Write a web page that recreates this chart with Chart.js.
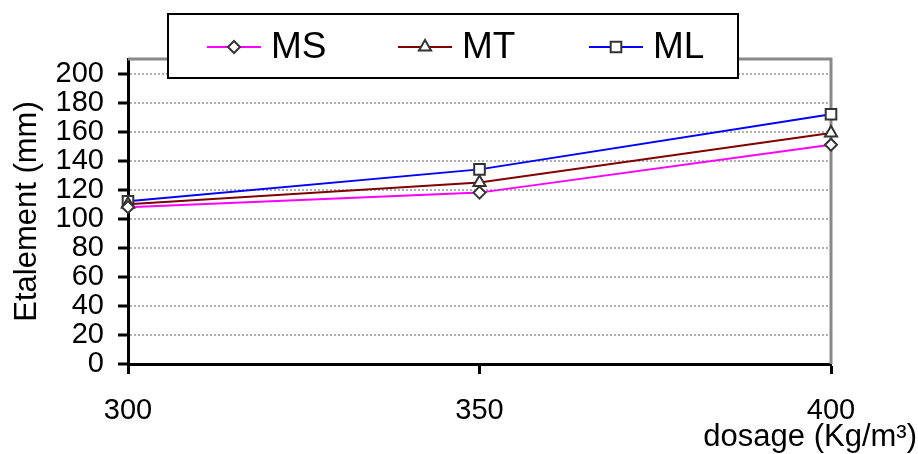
<!DOCTYPE html>
<html>
<head>
<meta charset="utf-8">
<script src="https://cdn.jsdelivr.net/npm/chart.js@4.4.0/dist/chart.umd.min.js"></script>
<style>
	html, body { margin: 0; padding: 0; background: #fff; }
	#wrap { width: 918px; height: 454px; }
</style>
</head>
<body>
<div id="wrap"><canvas id="chart" width="918" height="454"></canvas></div>
<script>
	// dosage (Kg/m3) on x, spread (mm) on y
	var dosages = [300, 350, 400];
	var seriesNames = ['MS', 'MT', 'ML'];
	var msValues = [108, 118, 151];
	var mtValues = [110, 125, 159];
	var mlValues = [112, 134, 172];
	var yTickValues = [0, 20, 40, 60, 80, 100, 120, 140, 160, 180, 200];

	var uiFont = '"Liberation Sans", Arial, sans-serif';

	function toPoints(values) {
		return values.map(function(v, i) { return { x: dosages[i], y: v }; });
	}

	function series(label, values, color, style, radius) {
		return {
			label: label,
			data: toPoints(values),
			borderColor: color,
			borderWidth: 2,
			pointStyle: style,
			pointRadius: radius,
			pointBorderColor: '#333333',
			pointBackgroundColor: '#ffffff',
			pointBorderWidth: 2,
			tension: 0,
			clip: false
		};
	}

	function drawMarker(ctx, style, r, x, y) {
		ctx.beginPath();
		if (style === 'rectRot') {
			ctx.moveTo(x, y - r);
			ctx.lineTo(x + r, y);
			ctx.lineTo(x, y + r);
			ctx.lineTo(x - r, y);
		} else if (style === 'triangle') {
			var a = 0;
			for (var k = 0; k < 3; k++) {
				var px = x + Math.sin(a) * r, py = y - Math.cos(a) * r;
				if (k === 0) ctx.moveTo(px, py); else ctx.lineTo(px, py);
				a += Math.PI * 2 / 3;
			}
		} else {
			var s = r * Math.SQRT1_2;
			ctx.rect(x - s, y - s, s * 2, s * 2);
		}
		ctx.closePath();
		ctx.fillStyle = '#ffffff';
		ctx.fill();
		ctx.lineWidth = 2;
		ctx.strokeStyle = '#333333';
		ctx.stroke();
	}

	// gray top/right frame, boxed legend and the x title
	var extras = {
		id: 'extras',
		beforeDatasetsDraw: function(chart) {
			var ctx = chart.ctx, a = chart.chartArea;
			ctx.save();
			ctx.strokeStyle = '#888888';
			ctx.lineWidth = 3;
			ctx.beginPath();
			ctx.moveTo(a.left, a.top);
			ctx.lineTo(a.right, a.top);
			ctx.lineTo(a.right, a.bottom);
			ctx.stroke();
			ctx.restore();
		},
		afterDraw: function(chart) {
			var ctx = chart.ctx;
			ctx.save();

			ctx.fillStyle = '#ffffff';
			ctx.fillRect(168, 14, 570, 64);
			ctx.strokeStyle = '#000000';
			ctx.lineWidth = 2;
			ctx.strokeRect(168, 14, 570, 64);

			ctx.font = '37px ' + uiFont;
			ctx.textBaseline = 'middle';
			ctx.textAlign = 'left';
			chart.data.datasets.forEach(function(ds, i) {
				var x0 = 207 + i * 191, y0 = 47;
				ctx.strokeStyle = ds.borderColor;
				ctx.lineWidth = 2;
				ctx.beginPath();
				ctx.moveTo(x0, y0);
				ctx.lineTo(x0 + 54, y0);
				ctx.stroke();
				drawMarker(ctx, ds.pointStyle, ds.pointRadius, x0 + 27, y0);
				ctx.fillStyle = '#000000';
				ctx.fillText(ds.label, x0 + 64, y0 + 1);
			});

			ctx.font = '31px ' + uiFont;
			ctx.textAlign = 'right';
			ctx.fillStyle = '#000000';
			ctx.fillText('dosage (Kg/m³)', 917, 437);
			ctx.restore();
		}
	};

	var ctx = document.getElementById('chart').getContext('2d');
	var chart = new Chart(ctx, {
		type: 'line',
		data: {
			datasets: [
				series(seriesNames[0], msValues, '#ff00ff', 'rectRot', 6),
				series(seriesNames[1], mtValues, '#800000', 'triangle', 7),
				series(seriesNames[2], mlValues, '#0000ff', 'rect', 7.5)
			]
		},
		options: {
			responsive: false,
			animation: false,
			devicePixelRatio: 1,
			layout: { padding: { top: 59, right: 87, bottom: 0, left: 0 } },
			plugins: {
				legend: { display: false },
				tooltip: { enabled: false }
			},
			scales: {
				x: {
					type: 'linear',
					min: 300,
					max: 400,
					afterFit: function(scale) { scale.height = 90; },
					ticks: {
						stepSize: 50,
						maxRotation: 0,
						autoSkip: false,
						padding: 22,
						color: '#000000',
						font: { family: uiFont, size: 29, lineHeight: 1 }
					},
					grid: {
						drawOnChartArea: false,
						tickLength: 10,
						tickColor: '#000000',
						tickWidth: 3
					},
					border: { color: '#000000', width: 3 }
				},
				y: {
					min: 0,
					max: 210,
					afterBuildTicks: function(scale) {
						scale.ticks = yTickValues.map(function(v) { return { value: v }; });
					},
					afterFit: function(scale) { scale.width = 128; },
					ticks: {
						autoSkip: false,
						padding: 14,
						color: '#000000',
						font: { family: uiFont, size: 29, lineHeight: 1 }
					},
					grid: {
						color: '#b0b0b0',
						lineWidth: 2,
						tickLength: 10,
						tickColor: '#000000',
						tickWidth: 3,
						tickBorderDash: []
					},
					border: { color: '#000000', width: 3, dash: [2, 2] },
					title: {
						display: true,
						text: 'Etalement (mm)',
						color: '#000000',
						font: { family: uiFont, size: 31 },
						padding: { top: 9, bottom: 0 }
					}
				}
			}
		},
		plugins: [extras]
	});
</script>
</body>
</html>
